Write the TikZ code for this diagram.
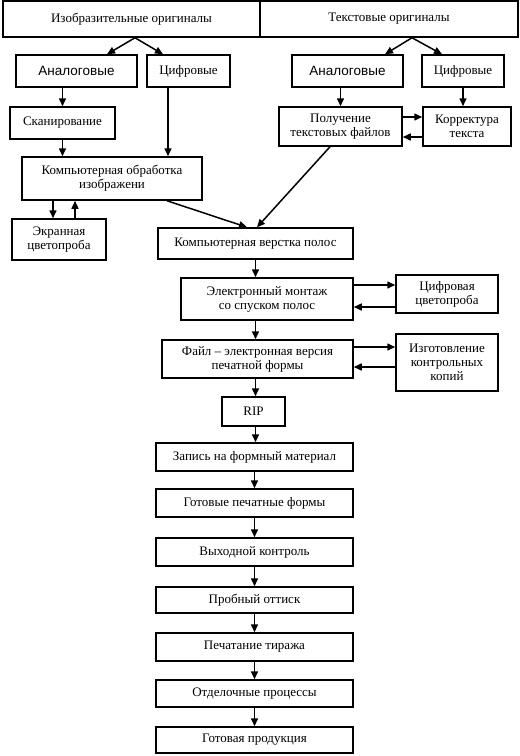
\documentclass[tikz,border=0pt]{standalone}
\usepackage{fontspec}
\setmainfont{Liberation Serif}
\newfontfamily\arialfont{Liberation Sans}
\usetikzlibrary{arrows.meta}
\tikzset{
  box/.style={draw, line width=1.5pt, rectangle, align=center, inner sep=1pt,
    font=\fontsize{13}{14}\selectfont},
  arr/.style={line width=1.5pt, -{Triangle[length=8pt,width=7pt]}},
  sansbox/.style={font=\arialfont\fontsize{13.5}{15}\selectfont},
}
\begin{document}
\begin{tikzpicture}[x=1pt,y=-1pt]
\useasboundingbox[fill=white] (0,0) rectangle (520,756);
% top row
\node[box, minimum width=257pt, minimum height=36pt] (izo) at (131.5,19) {Изобразительные оригиналы};
\node[box, minimum width=258pt, minimum height=36pt] (tekst) at (389,19) {Текстовые оригиналы};
\node[box, sansbox, minimum width=121pt, minimum height=32pt] (anL) at (76.5,71) {Аналоговые};
\node[box, minimum width=83pt, minimum height=32pt] (cifL) at (188.5,71) {Цифровые};
\node[box, sansbox, minimum width=111pt, minimum height=32pt] (anR) at (347.5,71) {Аналоговые};
\node[box, minimum width=82pt, minimum height=32pt] (cifR) at (463,71) {Цифровые};
\node[box, minimum width=105pt, minimum height=32pt] (scan) at (62.5,123) {Сканирование};
\node[box, minimum width=123pt, minimum height=39pt] (poluch) at (340.5,126.5) {Получение\\текстовых файлов};
\node[box, minimum width=88pt, minimum height=39pt] (korr) at (467,126.5) {Корректура\\текста};
\node[box, minimum width=180pt, minimum height=43pt] (obrab) at (112,178.5) {Компьютерная обработка\\изображени};
\node[box, minimum width=94pt, minimum height=41pt] (ekran) at (59,239.5) {Экранная\\цветопроба};
\node[box, minimum width=195pt, minimum height=31pt] (verst) at (255.5,243.5) {Компьютерная верстка полос};
\node[box, minimum width=172pt, minimum height=42pt] (montazh) at (267,299) {Электронный монтаж\\со спуском полос};
\node[box, minimum width=102pt, minimum height=38pt] (cifcv) at (447,294) {Цифровая\\цветопроба};
\node[box, minimum width=191pt, minimum height=38pt] (fail) at (257.5,359) {Файл – электронная версия\\печатной формы};
\node[box, minimum width=102pt, minimum height=57pt] (izgot) at (447,362.5) {Изготовление\\контрольных\\копий};
\node[box, minimum width=63pt, minimum height=29pt] (rip) at (253.5,411.5) {RIP};
\node[box, minimum width=197pt, minimum height=28pt] (zapis) at (254.5,457) {Запись на формный материал};
\node[box, minimum width=197pt, minimum height=28pt] (gotpf) at (254.5,503) {Готовые печатные формы};
\node[box, minimum width=197pt, minimum height=28pt] (vyh) at (254.5,552) {Выходной контроль};
\node[box, minimum width=197pt, minimum height=26pt] (prob) at (254.5,600) {Пробный оттиск};
\node[box, minimum width=197pt, minimum height=28pt] (pechat) at (254.5,647) {Печатание тиража};
\node[box, minimum width=197pt, minimum height=27pt] (otdel) at (254.5,693.5) {Отделочные процессы};
\node[box, minimum width=197pt, minimum height=26pt] (gotprod) at (254.5,740) {Готовая продукция};
% top splits
\draw[arr] ([xshift=3.5pt]izo.south) -- ([xshift=30.5pt]anL.north);
\draw[arr] ([xshift=3.5pt]izo.south) -- ([xshift=-25.5pt]cifL.north);
\draw[arr] ([xshift=23pt]tekst.south) -- ([xshift=37.5pt]anR.north);
\draw[arr] ([xshift=23pt]tekst.south) -- ([xshift=-21pt]cifR.north);
% left column
\draw[arr] (scan.north |- anL.south) -- (scan.north);
\draw[arr] (scan.south) -- (scan.south |- obrab.north);
\draw[arr] ([xshift=-20.5pt]cifL.south) -- ([xshift=-20.5pt]cifL.south |- obrab.north);
\draw[arr] ([xshift=-6pt]ekran.north |- obrab.south) -- ([xshift=-6pt]ekran.north);
\draw[arr] ([xshift=16pt]ekran.north) -- ([xshift=16pt]ekran.north |- obrab.south);
\draw[arr] ([xshift=55pt]obrab.south) -- ([xshift=-8.5pt]verst.north);
% right column
\draw[arr] (poluch.north |- anR.south) -- (poluch.north);
\draw[arr] (cifR.south) -- (cifR.south |- korr.north);
\draw[arr] ([yshift=9.5pt]poluch.east) -- ([yshift=9.5pt]poluch.east -| korr.west);
\draw[arr] ([yshift=-10.5pt]korr.west) -- ([yshift=-10.5pt]korr.west -| poluch.east);
\draw[arr] ([xshift=-10.5pt]poluch.south) -- ([xshift=1.5pt]verst.north);
% main chain
\draw[arr] (verst.south) -- (verst.south |- montazh.north);
\draw[arr] ([yshift=14pt]montazh.east) -- ([yshift=14pt]montazh.east -| cifcv.west);
\draw[arr] ([yshift=-8pt]montazh.east -| cifcv.west) -- ([yshift=-8pt]montazh.east);
\draw[arr] (verst.south |- montazh.south) -- (verst.south |- fail.north);
\draw[arr] ([yshift=12pt]fail.east) -- ([yshift=12pt]fail.east -| izgot.west);
\draw[arr] ([yshift=-8pt]fail.east -| izgot.west) -- ([yshift=-8pt]fail.east);
\draw[arr] (verst.south |- fail.south) -- (verst.south |- rip.north);
\draw[arr] (verst.south |- rip.south) -- (verst.south |- zapis.north);
\draw[arr] (zapis.south) -- (zapis.south |- gotpf.north);
\draw[arr] (gotpf.south) -- (gotpf.south |- vyh.north);
\draw[arr] (vyh.south) -- (vyh.south |- prob.north);
\draw[arr] (prob.south) -- (prob.south |- pechat.north);
\draw[arr] (pechat.south) -- (pechat.south |- otdel.north);
\draw[arr] (otdel.south) -- (otdel.south |- gotprod.north);
\end{tikzpicture}
\end{document}
